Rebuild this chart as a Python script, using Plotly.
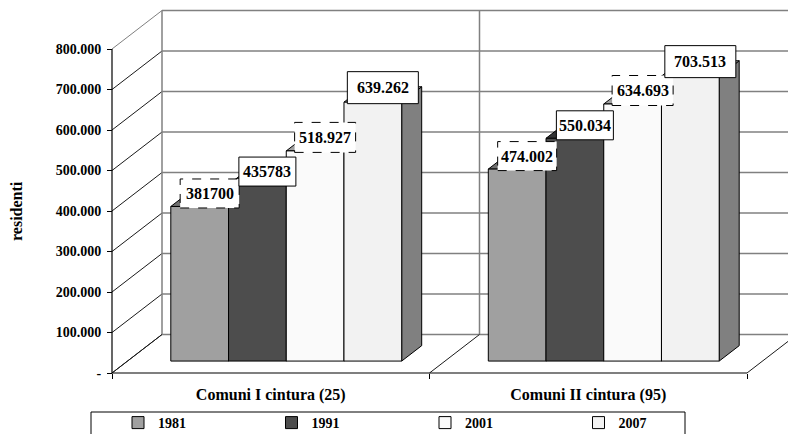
import plotly.graph_objects as go

# ---------------- data ----------------
categories = ["Comuni I cintura (25)", "Comuni II cintura (95)"]
years = ["1981", "1991", "2001", "2007"]
values_1981 = [381700, 474002]
values_1991 = [435783, 550034]
values_2001 = [518927, 634693]
values_2007 = [639262, 703513]
labels_1981 = ["381700", "474.002"]
labels_1991 = ["435783", "550.034"]
labels_2001 = ["518.927", "634.693"]
labels_2007 = ["639.262", "703.513"]
y_tickvals = [0, 100000, 200000, 300000, 400000, 500000, 600000, 700000, 800000]
y_ticktext = ["-", "100.000", "200.000", "300.000", "400.000", "500.000",
              "600.000", "700.000", "800.000"]
y_title = "residenti"

series_values = [values_1981, values_1991, values_2001, values_2007]
series_labels = [labels_1981, labels_1991, labels_2001, labels_2007]

# ---------------- style / geometry ----------------
W, H = 788, 434
X0_PX = 112.0          # pixel x of category edge 0 on the front plane
CAT_PX = 317.5         # pixels per category
Y0_PX = 373.0          # pixel y of value 0 on the front plane
PX_PER_VAL = 40.5 / 100000.0
DEPTH_DX_PX = 50.0
DEPTH_DY_PX = 38.5

dxu = DEPTH_DX_PX / CAT_PX            # depth shift in x data units
dyu = DEPTH_DY_PX / PX_PER_VAL        # depth shift in y data units
D_FRONT = 0.31                         # bar front plane depth
D_BAR = 0.40                           # bar depth
GAP = 1.5
BW = 1.0 / (len(years) + GAP)

FONT = "Liberation Serif, Times New Roman, serif"
face_colors = ["#A0A0A0", "#4D4D4D", "#FAFAFA", "#F2F2F2"]
side_colors = ["#6E6E6E", "#2E2E2E", "#B8B8B8", "#808080"]
top_colors = ["#707070", "#333333", "#A0A0A0", "#AAAAAA"]
box_dash = ["dash", "solid", "dash", "solid"]
box_w = [59, 57, 61, 71]
box_h = [29, 29, 30, 32]


def P(xc, v, d):
    return xc + d * dxu, v + d * dyu


xr = [-X0_PX / CAT_PX, (W - X0_PX) / CAT_PX]
yr = [-(H - Y0_PX) / PX_PER_VAL, Y0_PX / PX_PER_VAL]

fig = go.Figure()
shapes = []
annotations = []

wall_col = "#808080"
diag_col = "#1a1a1a"
vmax = y_tickvals[-1]
ncat = len(categories)

# back wall gridlines
for v in y_tickvals:
    (xa, ya), (xb, yb) = P(0, v, 1), P(ncat, v, 1)
    shapes.append(dict(type="line", xref="x", yref="y", x0=xa, y0=ya, x1=xb, y1=yb,
                       line=dict(color=wall_col, width=1.5), layer="below"))
# left wall diagonals
for v in y_tickvals:
    (xa, ya), (xb, yb) = P(0, v, 0), P(0, v, 1)
    col = wall_col if v == vmax else diag_col
    shapes.append(dict(type="line", xref="x", yref="y", x0=xa, y0=ya, x1=xb, y1=yb,
                       line=dict(color=col, width=1), layer="below"))
# back wall verticals
for c in range(ncat + 1):
    (xa, ya), (xb, yb) = P(c, 0, 1), P(c, vmax, 1)
    shapes.append(dict(type="line", xref="x", yref="y", x0=xa, y0=ya, x1=xb, y1=yb,
                       line=dict(color=wall_col, width=1.5), layer="below"))
# floor diagonals
for c in range(ncat + 1):
    (xa, ya), (xb, yb) = P(c, 0, 0), P(c, 0, 1)
    shapes.append(dict(type="line", xref="x", yref="y", x0=xa, y0=ya, x1=xb, y1=yb,
                       line=dict(color=diag_col, width=1), layer="below"))
# floor front line and front value axis
(xa, ya), (xb, yb) = P(0, 0, 0), P(ncat, 0, 0)
shapes.append(dict(type="line", xref="x", yref="y", x0=xa, y0=ya, x1=xb, y1=yb,
                   line=dict(color="black", width=1.2), layer="below"))
(xa, ya), (xb, yb) = P(0, 0, 0), P(0, vmax, 0)
shapes.append(dict(type="line", xref="x", yref="y", x0=xa, y0=ya, x1=xb, y1=yb,
                   line=dict(color="black", width=1.2), layer="below"))

base = D_FRONT * dyu
ddx, ddy = D_BAR * dxu, D_BAR * dyu

for k, yr_name in enumerate(years):
    vals = series_values[k]
    centers = [i + (GAP / 2 + k + 0.5) * BW + D_FRONT * dxu for i in range(ncat)]
    fig.add_trace(go.Bar(
        x=centers, y=vals, base=[base] * len(vals), width=BW, name=yr_name,
        marker=dict(color=face_colors[k], line=dict(color="black", width=1)),
        hoverinfo="skip",
    ))
    for i, v in enumerate(vals):
        xl, xrr = centers[i] - BW / 2, centers[i] + BW / 2
        t = base + v
        side = (f"M{xrr},{base} L{xrr + ddx},{base + ddy} L{xrr + ddx},{t + ddy} "
                f"L{xrr},{t} Z")
        top = (f"M{xl},{t} L{xl + ddx},{t + ddy} L{xrr + ddx},{t + ddy} "
               f"L{xrr},{t} Z")
        shapes.append(dict(type="path", xref="x", yref="y", path=side,
                           fillcolor=side_colors[k], line=dict(color="black", width=1),
                           layer="below"))
        shapes.append(dict(type="path", xref="x", yref="y", path=top,
                           fillcolor=top_colors[k], line=dict(color="black", width=1),
                           layer="below"))
        ax = centers[i] + ddx / 2
        shapes.append(dict(type="rect", xref="x", yref="y",
                           xsizemode="pixel", ysizemode="pixel",
                           xanchor=ax, yanchor=t,
                           x0=-box_w[k] / 2, x1=box_w[k] / 2, y0=-1.5, y1=box_h[k] - 1.5,
                           fillcolor="white",
                           line=dict(color="black", width=1, dash=box_dash[k]),
                           layer="above"))
        annotations.append(dict(x=ax, y=t, xref="x", yref="y", showarrow=False,
                                text=series_labels[k][i], yshift=box_h[k] / 2 - 1.5,
                                font=dict(family=FONT, size=16, color="black",
                                          weight="bold")))

annotations.append(dict(x=17 / W, y=1 - 211 / H, xref="paper", yref="paper",
                        xanchor="center", yanchor="middle",
                        text=y_title, textangle=-90, showarrow=False,
                        font=dict(family=FONT, size=16, color="black", weight="bold")))

# legend frame
shapes.append(dict(type="rect", xref="paper", yref="paper",
                   x0=91 / W, x1=685 / W, y0=1 - 412 / H, y1=-0.2,
                   line=dict(color="black", width=1), fillcolor="rgba(0,0,0,0)",
                   layer="above"))

fig.update_layout(
    template="none",
    width=W, height=H,
    margin=dict(l=0, r=0, t=0, b=0, autoexpand=False),
    paper_bgcolor="white", plot_bgcolor="white",
    barmode="overlay",
    font=dict(family=FONT, color="black"),
    shapes=shapes, annotations=annotations,
    showlegend=True,
    legend=dict(orientation="h", x=118 / W, y=-5 / H, xanchor="left", yanchor="bottom",
                entrywidth=108.5, entrywidthmode="pixels",
                bgcolor="rgba(0,0,0,0)", borderwidth=0,
                font=dict(family=FONT, size=14, color="black", weight="bold")),
    xaxis=dict(domain=[0, 1], range=xr, showgrid=False, zeroline=False, showline=False,
               automargin=False,
               tickvals=[i + 0.5 for i in range(ncat)], ticktext=categories,
               ticks="", anchor="free", position=(H - Y0_PX) / H,
               ticklabelstandoff=10,
               tickfont=dict(family=FONT, size=16, color="black", weight="bold"),
               minor=dict(tickvals=list(range(ncat + 1)), ticks="outside", ticklen=5,
                          tickcolor="black", showgrid=False),
               fixedrange=True),
    yaxis=dict(domain=[0, 1], range=yr, showgrid=False, zeroline=False, showline=False,
               automargin=False,
               tickvals=y_tickvals, ticktext=y_ticktext, ticks="outside", ticklen=5,
               tickcolor="black", anchor="free", position=X0_PX / W,
               ticklabelstandoff=3,
               tickfont=dict(family=FONT, size=14, color="black", weight="bold"),
               fixedrange=True),
)

fig.write_html("out.html", config={"displayModeBar": False})
